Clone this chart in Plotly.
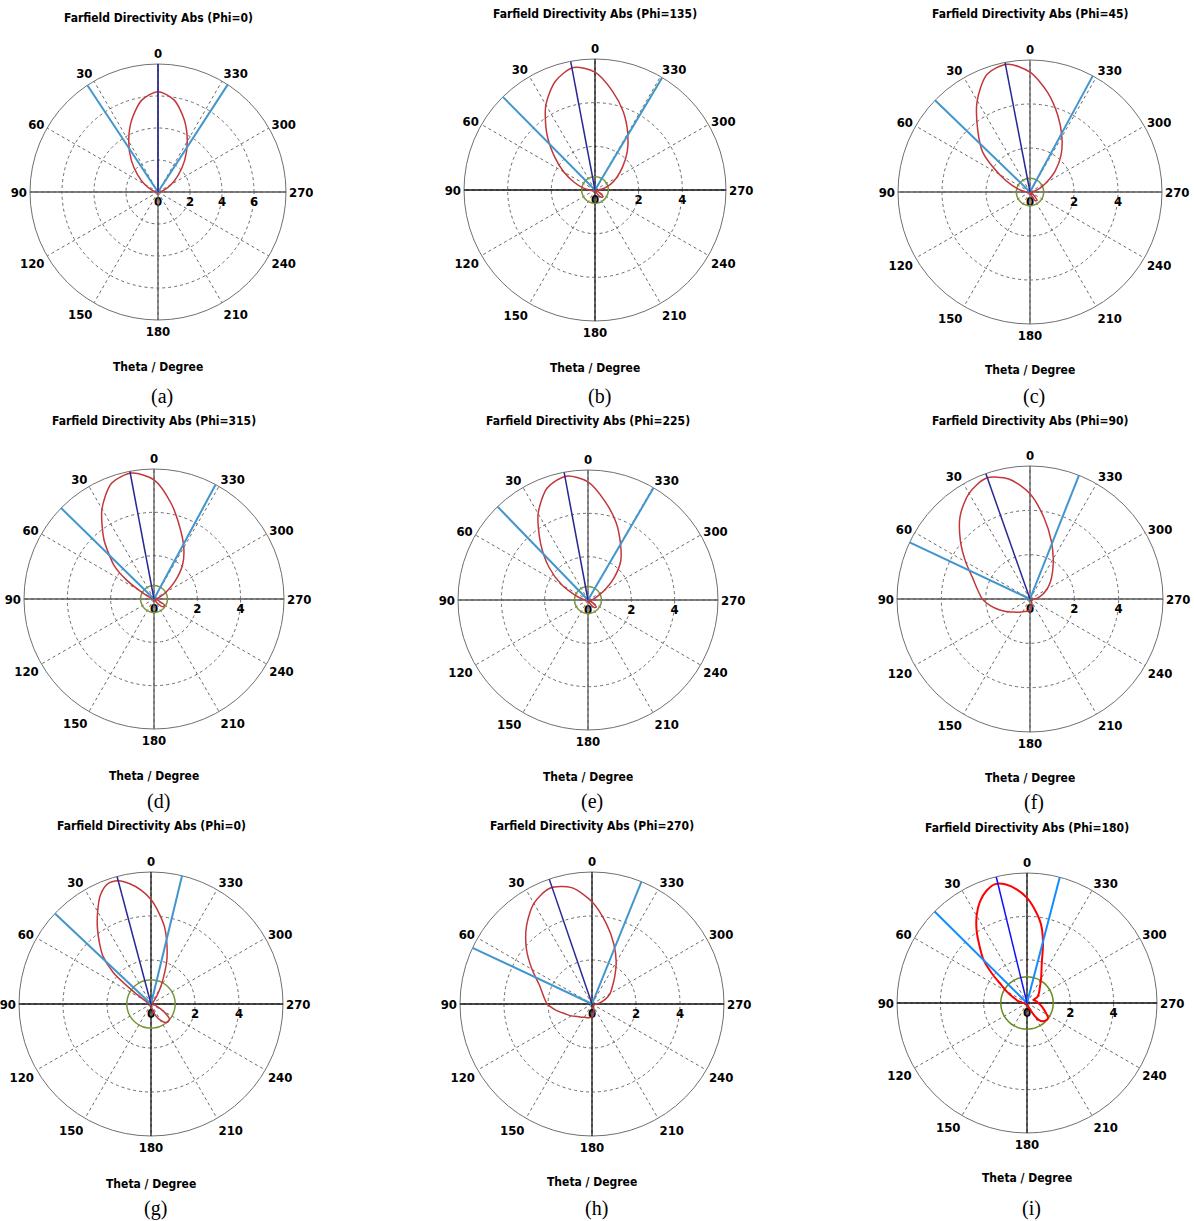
import plotly.graph_objects as go

W, H = 1194, 1221

# ---------------- data ----------------
ANGLE_TICKS = list(range(0, 360, 30))

THETA_A = [0, 10, 20, 30, 40, 50, 60, 70, 80, 90, 120, 150, 180, 210, 240, 270, 280, 290, 300, 310, 320, 330, 340, 350]
R_A = [6.27, 5.83, 4.80, 3.66, 2.6, 1.65, 0.95, 0.45, 0.2, 0.08, 0.05, 0.04, 0.04, 0.04, 0.05, 0.08, 0.2, 0.45, 0.95, 1.65, 2.6, 3.66, 4.80, 5.83]

THETA_B = [0, 10, 20, 30, 40, 50, 60, 70, 80, 90, 100, 120, 150, 180, 200, 210, 220, 230, 240, 250, 270, 280, 290, 300, 310, 320, 330, 340, 350]
R_B = [5.4, 5.7, 5.3, 4.5, 3.45, 2.45, 1.65, 1.0, 0.56, 0.27, 0.14, 0.07, 0.04, 0.04, 0.06, 0.18, 0.42, 0.48, 0.22, 0.08, 0.15, 0.4, 0.75, 1.15, 1.65, 2.3, 3.0, 3.8, 4.6]

THETA_C = [0, 10, 20, 30, 40, 50, 60, 70, 80, 90, 100, 120, 150, 180, 200, 210, 220, 230, 240, 260, 270, 280, 290, 300, 310, 320, 330, 340, 350]
R_C = [5.45, 5.9, 5.7, 4.8, 3.7, 2.8, 1.6, 0.85, 0.4, 0.17, 0.1, 0.07, 0.05, 0.05, 0.1, 0.45, 0.5, 0.2, 0.08, 0.07, 0.1, 0.2, 0.45, 0.85, 1.5, 2.2, 2.9, 3.7, 4.6]

THETA_D = [0, 10, 20, 30, 40, 45, 50, 55, 60, 65, 70, 80, 90, 120, 150, 180, 210, 220, 230, 240, 250, 270, 280, 290, 300, 310, 320, 330, 340, 350]
R_D = [5.5, 5.9, 5.7, 4.8, 3.6, 2.95, 2.4, 1.6, 0.75, 0.35, 0.18, 0.08, 0.06, 0.05, 0.04, 0.04, 0.08, 0.3, 0.55, 0.55, 0.2, 0.08, 0.14, 0.3, 0.65, 1.25, 2.05, 2.75, 3.5, 4.5]

THETA_E = [0, 10, 20, 30, 40, 50, 60, 70, 80, 90, 100, 120, 150, 180, 200, 210, 220, 230, 240, 250, 270, 280, 290, 300, 310, 320, 330, 340, 350]
R_E = [5.45, 5.8, 5.5, 4.6, 3.4, 2.35, 1.4, 0.6, 0.24, 0.1, 0.07, 0.05, 0.04, 0.04, 0.06, 0.2, 0.45, 0.5, 0.22, 0.08, 0.12, 0.25, 0.45, 0.85, 1.55, 2.35, 3.0, 3.8, 4.6]

THETA_F = [0, 10, 20, 30, 40, 50, 60, 70, 80, 90, 100, 110, 120, 130, 140, 150, 160, 170, 180, 190, 200, 210, 220, 240, 250, 260, 270, 280, 290, 300, 310, 320, 330, 340, 350]
R_F = [4.75, 5.5, 5.8, 5.5, 4.9, 4.1, 3.35, 2.75, 2.4, 2.15, 1.8, 1.45, 1.15, 0.92, 0.78, 0.66, 0.6, 0.55, 0.5, 0.4, 0.25, 0.15, 0.1, 0.08, 0.1, 0.14, 0.22, 0.38, 0.6, 0.88, 1.2, 1.58, 2.1, 2.8, 3.7]

THETA_G = [0, 5, 10, 15, 20, 25, 30, 35, 40, 45, 50, 55, 60, 70, 80, 90, 120, 150, 180, 190, 200, 210, 220, 230, 240, 250, 260, 270, 300, 310, 320, 325, 330, 335, 340, 345, 350, 355]
R_G = [4.75, 5.2, 5.55, 5.8, 5.8, 5.45, 4.85, 4.25, 3.65, 3.1, 2.25, 0.9, 0.35, 0.15, 0.1, 0.08, 0.07, 0.06, 0.06, 0.15, 0.5, 0.85, 1.1, 1.1, 0.65, 0.25, 0.1, 0.08, 0.08, 0.12, 0.3, 0.5, 0.85, 1.35, 2.1, 2.8, 3.55, 4.15]

THETA_H = [0, 10, 20, 30, 40, 50, 60, 70, 80, 90, 100, 110, 120, 130, 140, 150, 160, 170, 180, 190, 200, 210, 220, 230, 240, 250, 260, 270, 280, 290, 300, 310, 320, 330, 340, 350]
R_H = [4.65, 5.37, 5.6, 5.28, 4.63, 3.89, 3.15, 2.55, 2.25, 2.03, 1.65, 1.3, 1.08, 0.88, 0.78, 0.7, 0.66, 0.63, 0.6, 0.45, 0.25, 0.15, 0.1, 0.08, 0.08, 0.1, 0.14, 0.22, 0.4, 0.65, 0.95, 1.2, 1.6, 2.2, 2.9, 3.72]

THETA_I = [0, 5, 10, 15, 20, 25, 30, 35, 40, 45, 50, 55, 60, 65, 70, 75, 80, 90, 100, 120, 150, 180, 190, 200, 205, 210, 215, 220, 230, 235, 240, 250, 260, 270, 280, 290, 295, 300, 310, 320, 330, 340, 345, 350, 355]
R_I = [4.85, 5.25, 5.55, 5.68, 5.5, 5.15, 4.65, 4.05, 3.4, 2.85, 2.1, 1.45, 1.1, 0.8, 0.6, 0.48, 0.35, 0.15, 0.1, 0.08, 0.07, 0.07, 0.1, 0.15, 0.3, 0.65, 0.95, 1.1, 1.2, 1.19, 1.05, 0.82, 0.65, 0.52, 0.45, 0.36, 0.34, 0.55, 0.72, 0.92, 1.3, 2.0, 2.86, 3.7, 4.3]

LABELS = ['a', 'b', 'c', 'd', 'e', 'f', 'g', 'h', 'i']
PHI = ['0', '135', '45', '315', '225', '90', '0', '270', '180']
THETAS = [THETA_A, THETA_B, THETA_C, THETA_D, THETA_E, THETA_F, THETA_G, THETA_H, THETA_I]
RADII = [R_A, R_B, R_C, R_D, R_E, R_F, R_G, R_H, R_I]
R_MAX = [8, 6, 6, 6, 6, 6, 6, 6, 6]
MAIN_DIR = [0, 10.7, 10.9, 10.7, 10.6, 19.4, 14.9, 18.9, 13.7]
HALF_POWER = [(33.5, 327), (44.7, 329.1), (46, 331.6), (45.6, 331.7), (44.1, 329.7), (64.8, 338.4), (46.7, 346.4), (64.8, 338), (45.3, 345.4)]
SIDE_LOBE = [None, 0.61, 0.62, 0.62, 0.62, None, 1.10, None, 1.21]

# ---------------- layout geometry (pixels) ----------------
CENTERS = [(158, 192), (595, 190), (1030, 192), (154, 599), (588, 600), (1030, 599), (151, 1004), (592, 1004), (1027, 1003)]
RADIUS_PX = [128, 131, 132, 130, 130, 133, 132, 132, 130]
TITLE_Y = [18, 14, 14, 421, 421, 421, 826, 826, 828]
XLABEL_Y = [367, 368, 370, 776, 777, 778, 1184, 1182, 1178]
CAPTION_Y = [396, 396, 396, 801, 801, 802, 1208, 1208, 1208]

FONT = "DejaVu Sans Condensed"
fig = go.Figure()
ann = []
circle_theta = list(range(0, 361, 10))

for i in range(9):
    sub = 'polar' if i == 0 else f'polar{i+1}'
    rm = R_MAX[i]
    last = (i == 8)
    cross = '#111111' if LABELS[i] in 'bghi' else '#5a5a5a'
    red = '#ff0000' if last else 'rgb(195,55,58)'
    dblue = '#1010ff' if last else 'rgb(40,40,150)'
    lblue = 'rgb(20,140,255)' if last else 'rgb(65,150,205)'
    green = 'rgb(100,140,30)' if last else 'rgb(120,150,60)'

    fig.add_trace(go.Scatterpolar(r=[rm, 0, rm], theta=[0, 0, 180], mode='lines',
                                  line=dict(color=cross, width=1.3), subplot=sub, hoverinfo='skip'))
    fig.add_trace(go.Scatterpolar(r=[rm, 0, rm], theta=[90, 90, 270], mode='lines',
                                  line=dict(color=cross, width=1.3), subplot=sub, hoverinfo='skip'))
    if SIDE_LOBE[i]:
        fig.add_trace(go.Scatterpolar(r=[SIDE_LOBE[i]] * len(circle_theta), theta=circle_theta, mode='lines',
                                      line=dict(color=green, width=1.5, shape='spline'), subplot=sub))
    th = THETAS[i] + [360]
    rr = RADII[i] + [RADII[i][0]]
    fig.add_trace(go.Scatterpolar(r=rr, theta=th, mode='lines',
                                  line=dict(color=red, width=2 if last else 1.5, shape='spline', smoothing=0.8),
                                  subplot=sub))
    hp = HALF_POWER[i]
    fig.add_trace(go.Scatterpolar(r=[0, rm, None, 0, rm], theta=[hp[0], hp[0], 0, hp[1], hp[1]], mode='lines',
                                  line=dict(color=lblue, width=2), subplot=sub))
    fig.add_trace(go.Scatterpolar(r=[0, rm], theta=[MAIN_DIR[i], MAIN_DIR[i]], mode='lines',
                                  line=dict(color=dblue, width=1.5), subplot=sub))

    cx, cy = CENTERS[i]
    R = RADIUS_PX[i]
    ticks = [0, 2, 4, 6] if rm == 8 else [0, 2, 4]
    fig.update_layout(**{sub: dict(
        domain=dict(x=[(cx - R) / W, (cx + R) / W], y=[1 - (cy + R) / H, 1 - (cy - R) / H]),
        bgcolor='white',
        angularaxis=dict(rotation=90, direction='counterclockwise', tickmode='array',
                         tickvals=ANGLE_TICKS, ticktext=[str(v) for v in ANGLE_TICKS],
                         showgrid=True, gridcolor='#6a6a6a', griddash='dot', gridwidth=1,
                         showline=True, linecolor='#707070', linewidth=1, ticks='', layer='below traces',
                         tickfont=dict(family=FONT, size=13, color='black', weight='bold')),
        radialaxis=dict(range=[0, rm], tickmode='array', tickvals=ticks, ticktext=[str(v) for v in ticks],
                        angle=0, side='clockwise', showline=False, showgrid=True, gridcolor='#6a6a6a',
                        griddash='dot', gridwidth=1, ticks='', tickangle=0, layer='below traces',
                        tickfont=dict(family=FONT, size=13, color='black', weight='bold')),
    )})
    ann.append(dict(text=f'Farfield Directivity Abs (Phi={PHI[i]})', x=cx / W, y=1 - TITLE_Y[i] / H,
                    xref='paper', yref='paper', showarrow=False, xanchor='center', yanchor='middle',
                    font=dict(family=FONT, size=12, color='black', weight='bold')))
    ann.append(dict(text='Theta / Degree', x=cx / W, y=1 - XLABEL_Y[i] / H, xref='paper', yref='paper',
                    showarrow=False, xanchor='center', yanchor='middle',
                    font=dict(family=FONT, size=12, color='black', weight='bold')))
    ann.append(dict(text=f'({LABELS[i]})', x=(cx + 4) / W, y=1 - CAPTION_Y[i] / H, xref='paper', yref='paper',
                    showarrow=False, xanchor='center', yanchor='middle',
                    font=dict(family='Liberation Serif', size=20, color='black')))

fig.update_layout(width=W, height=H, margin=dict(l=0, r=0, t=0, b=0), paper_bgcolor='white',
                  plot_bgcolor='white', annotations=ann, showlegend=False)
fig.write_html('out.html')
